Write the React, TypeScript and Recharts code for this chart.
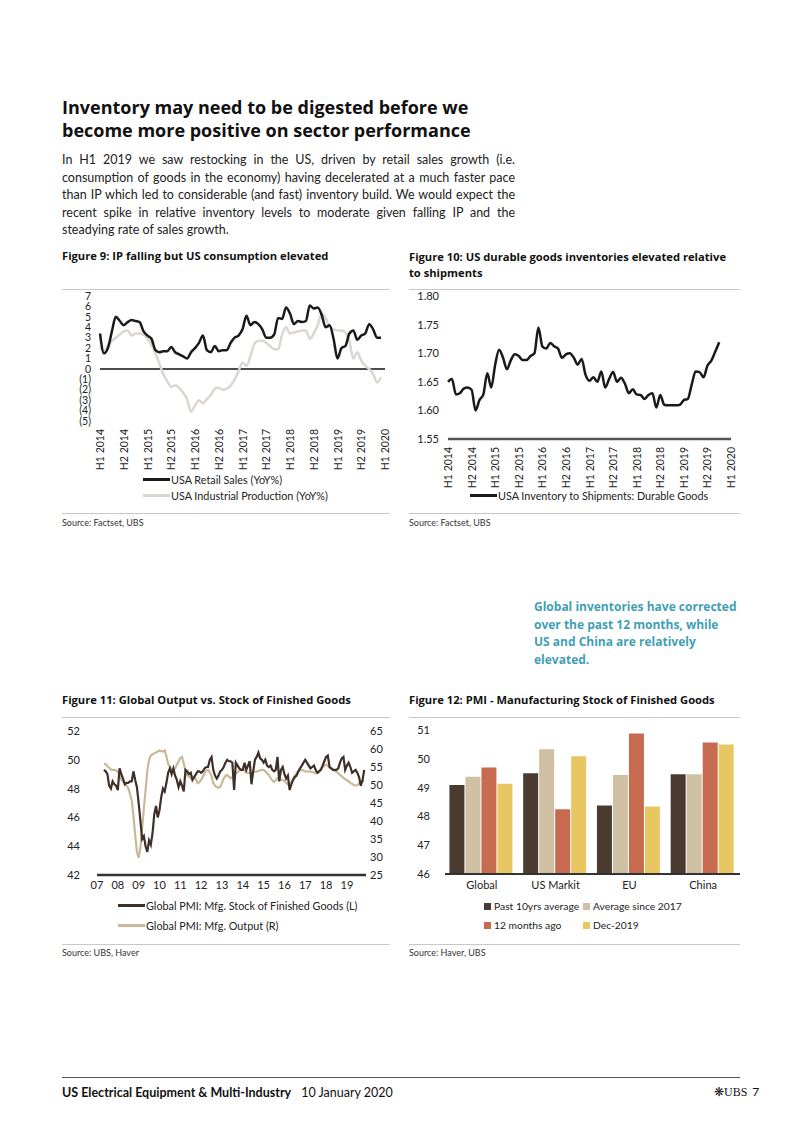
import React from "react";
import { LineChart, Line, XAxis, YAxis, ReferenceLine, BarChart, Bar } from "recharts";

const FONT = "Lato, 'Open Sans', sans-serif";
const HEAD_FONT = "'Open Sans', Lato, sans-serif";

// Figure 9 - monthly YoY %, Jan 2014 .. Dec 2019
const halfYearLabels = [
  "H1 2014", "H2 2014", "H1 2015", "H2 2015", "H1 2016", "H2 2016", "H1 2017",
  "H2 2017", "H1 2018", "H2 2018", "H1 2019", "H2 2019", "H1 2020",
];
const retailSales = [
  3.4, 1.5, 2.0, 3.6, 5.0, 4.6, 4.2, 4.5, 4.7, 4.6,
  4.5, 3.6, 3.2, 2.9, 1.8, 1.6, 1.7, 1.7, 2.1, 1.6,
  1.4, 1.2, 1.0, 1.6, 2.0, 2.5, 3.2, 1.8, 1.6, 2.2,
  1.7, 1.8, 1.8, 2.5, 3.0, 3.2, 3.8, 5.1, 4.2, 4.5,
  4.3, 3.8, 3.0, 3.0, 3.3, 4.9, 4.8, 5.9, 5.3, 4.3,
  4.6, 4.5, 4.6, 6.1, 5.8, 5.9, 5.2, 4.0, 4.2, 2.9,
  1.0, 2.0, 2.2, 3.4, 3.7, 2.8, 3.2, 3.4, 4.3, 3.8,
  3.0, 3.0,
];
const industrialProduction = [
  2.1, 1.7, 2.3, 2.7, 3.0, 3.3, 3.6, 3.7, 3.2, 3.4,
  3.4, 3.3, 2.9, 2.3, 1.5, 0.5, -0.5, -1.2, -1.7, -1.6,
  -1.8, -2.3, -2.9, -4.1, -3.5, -3.0, -3.3, -2.9, -2.5, -1.9,
  -1.8, -2.0, -1.9, -1.6, -1.0, -0.2, 0.6, 0.3, 1.2, 2.4,
  2.7, 2.7, 2.5, 2.2, 1.9, 1.9, 3.3, 4.0, 3.4, 3.5,
  3.6, 3.7, 3.7, 2.9, 3.4, 4.2, 5.3, 4.9, 4.0, 3.8,
  3.7, 3.7, 3.5, 2.7, 1.0, 1.6, 0.8, 0.3, 0.0, -0.5,
  -1.3, -0.8,
];

// Figure 10 - monthly ratio, Jan 2014 .. Oct 2019
const inventoryToShipments = [
  1.650, 1.655, 1.628, 1.630, 1.638, 1.640, 1.636, 1.600, 1.618, 1.628,
  1.665, 1.640, 1.680, 1.706, 1.692, 1.672, 1.688, 1.698, 1.695, 1.688,
  1.688, 1.695, 1.700, 1.745, 1.712, 1.708, 1.718, 1.712, 1.708, 1.692,
  1.698, 1.700, 1.692, 1.680, 1.690, 1.662, 1.652, 1.658, 1.650, 1.668,
  1.640, 1.655, 1.667, 1.650, 1.657, 1.647, 1.630, 1.637, 1.628, 1.627,
  1.620, 1.627, 1.630, 1.605, 1.627, 1.610, 1.609, 1.609, 1.609, 1.610,
  1.618, 1.620, 1.645, 1.668, 1.667, 1.658, 1.678, 1.687, 1.703, 1.719,
];

// Figure 11 - monthly from May 2007
const pmiYears = ["07", "08", "09", "10", "11", "12", "13", "14", "15", "16", "17", "18", "19"];
const pmiStartMonth = 4;
const pmiStock = [
  49.3, 49.2, 49.0, 48.2, 48.0, 48.5, 48.3, 48.2, 47.9, 49.4,
  49.0, 48.7, 48.3, 48.4, 48.4, 48.5, 48.5, 49.2, 48.6, 48.1,
  47.0, 45.8, 44.5, 44.7, 44.0, 43.6, 44.4, 44.1, 44.9, 46.2,
  46.8, 46.0, 46.5, 47.4, 48.0, 47.8, 48.4, 49.1, 49.4, 49.0,
  49.4, 48.9, 48.6, 48.1, 48.5, 48.2, 47.8, 49.3, 49.2, 49.0,
  49.1, 48.6, 48.8, 49.0, 49.2, 49.2, 49.1, 49.2, 49.4, 49.5,
  49.5, 50.0, 50.2, 49.3, 48.9, 48.7, 48.9, 49.2, 49.3, 49.5,
  49.8, 50.0, 49.9, 49.9, 49.8, 47.9, 49.8, 49.6, 49.4, 49.3,
  49.3, 49.8, 49.3, 49.6, 49.9, 48.3, 49.2, 50.0, 50.2, 50.5,
  50.1, 50.0, 49.8, 50.0, 49.6, 49.5, 49.6, 49.3, 49.2, 49.3,
  50.2, 48.5, 49.3, 49.5, 49.0, 48.7, 48.9, 47.9, 48.3, 48.6,
  48.8, 48.9, 49.2, 49.4, 49.6, 49.8, 50.0, 49.8, 49.6, 49.4,
  49.5, 49.6, 49.3, 49.1, 49.2, 49.3, 49.6, 49.9, 50.2, 50.3,
  49.5, 49.4, 49.3, 49.3, 49.3, 49.4, 49.8, 50.1, 50.2, 49.3,
  49.6, 49.8, 49.5, 49.1, 49.2, 49.3, 49.1, 48.8, 48.2, 48.6,
  49.3,
];
const pmiOutput = [
  56.0, 55.8, 55.2, 54.8, 54.3, 54.2, 54.2, 54.0, 53.7, 52.5,
  51.5, 51.0, 50.5, 49.8, 49.1, 47.5, 45.8, 41.5, 36.0, 31.5,
  29.8, 32.5, 38.0, 43.5, 48.5, 54.0, 57.0, 58.2, 58.5, 58.8,
  59.0, 59.3, 59.6, 59.4, 59.3, 59.6, 58.0, 55.8, 55.0, 54.4,
  54.3, 54.6, 55.6, 56.5, 57.5, 57.8, 56.0, 54.0, 52.8, 52.3,
  51.9, 52.1, 52.3, 51.5, 50.5, 50.8, 51.4, 52.3, 53.3, 54.0,
  54.2, 53.5, 52.5, 50.5, 49.8, 49.4, 49.3, 49.5, 50.6, 51.8,
  52.5, 52.8, 52.3, 51.9, 52.2, 52.8, 53.3, 53.5, 54.0, 54.2,
  54.2, 54.0, 53.6, 53.3, 53.4, 53.5, 53.6, 53.7, 53.7, 53.9,
  54.1, 54.2, 54.2, 53.8, 53.3, 52.8, 52.0, 51.3, 50.9, 51.3,
  51.9, 51.8, 51.5, 51.4, 51.2, 50.6, 50.1, 50.2, 50.9, 51.8,
  52.6, 53.3, 53.7, 54.1, 54.2, 54.0, 53.8, 53.7, 53.7, 53.7,
  53.6, 53.5, 53.3, 53.4, 53.9, 54.5, 55.0, 55.4, 55.6, 55.3,
  54.8, 54.5, 54.2, 53.9, 53.7, 53.3, 52.8, 52.4, 52.0, 51.6,
  51.4, 51.0, 50.6, 50.3, 50.0, 49.9, 50.0, 50.4, 50.8, 51.2,
  50.9,
];

// Figure 12 - PMI stock of finished goods
const pmiRegions = ["Global", "US Markit", "EU", "China"];
const past10yrAvg = [49.09, 49.5, 48.38, 49.46];
const avgSince2017 = [49.38, 50.33, 49.44, 49.46];
const monthsAgo12 = [49.7, 48.25, 50.88, 50.57];
const dec2019 = [49.13, 50.09, 48.34, 50.5];

const fig9Data = retailSales.map((v, i) => ({ m: i, retail: v, ip: industrialProduction[i] }));
const fig10Data = inventoryToShipments.map((v, i) => ({ m: i, ratio: v }));
const fig11Data = pmiStock.map((v, i) => ({ t: i + pmiStartMonth, stock: v, output: pmiOutput[i] }));
const fig12Data = pmiRegions.map((r, i) => ({
  region: r,
  past10: past10yrAvg[i],
  since2017: avgSince2017[i],
  ago12: monthsAgo12[i],
  dec19: dec2019[i],
}));

const halfYearTicks = halfYearLabels.map((_, i) => i * 6);
const yearTicks = pmiYears.map((_, i) => i * 12);

const axisText = { fontSize: 11, fill: "#222", fontFamily: FONT };

const RotatedTick = (props: any) => {
  const { x, y, payload } = props;
  return (
    <text
      x={x}
      y={y}
      transform={`rotate(-90, ${x}, ${y})`}
      textAnchor="end"
      dominantBaseline="central"
      fontSize={10.5}
      fill="#222"
      fontFamily={FONT}
    >
      {halfYearLabels[Math.round(payload.value / 6)]}
    </text>
  );
};

const Txt = ({ left, top, size = 12, bold = false, color = "#111", font = FONT, children, style = {} }: any) => (
  <div
    style={{
      position: "absolute",
      left,
      top,
      fontSize: size,
      fontWeight: bold ? 700 : 400,
      color,
      fontFamily: font,
      lineHeight: 1.2,
      whiteSpace: "nowrap",
      ...style,
    }}
  >
    {children}
  </div>
);

const HLine = ({ left, top, width, color = "#c8c8c8", h = 1 }: any) => (
  <div style={{ position: "absolute", left, top, width, height: h, background: color }} />
);

const LineKey = ({ left, top, color, label }: any) => (
  <div style={{ position: "absolute", left, top, display: "flex", alignItems: "center", fontFamily: FONT, fontSize: 10.8, color: "#222", whiteSpace: "nowrap" }}>
    <span style={{ display: "inline-block", width: 27, height: 3, background: color, marginRight: 1 }} />
    {label}
  </div>
);

const BoxKey = ({ left, top, color, label }: any) => (
  <div style={{ position: "absolute", left, top, display: "flex", alignItems: "center", fontFamily: FONT, fontSize: 10.3, color: "#222", whiteSpace: "nowrap" }}>
    <span style={{ display: "inline-block", width: 7, height: 7, background: color, marginRight: 3 }} />
    {label}
  </div>
);

const paragraph = [
  "In H1 2019 we saw restocking in the US, driven by retail sales growth (i.e.",
  "consumption of goods in the economy) having decelerated at a much faster pace",
  "than IP which led to considerable (and fast) inventory build. We would expect the",
  "recent spike in relative inventory levels to moderate given falling IP and the",
  "steadying rate of sales growth.",
];

const callout = [
  "Global inventories have corrected",
  "over the past 12 months, while",
  "US and China are relatively",
  "elevated.",
];

export default function App() {
  return (
    <div style={{ position: "absolute", left: 0, top: 0, width: 802, height: 1133, background: "#fff", overflow: "hidden" }}>
      {/* heading */}
      <Txt left={62} top={96} size={18} bold font={HEAD_FONT} style={{ lineHeight: "23px" }}>
        Inventory may need to be digested before we
        <br />
        become more positive on sector performance
      </Txt>
      <div style={{ position: "absolute", left: 62, top: 151, width: 453, fontFamily: FONT, fontSize: 12.5, lineHeight: "17.6px", color: "#222" }}>
        {paragraph.map((line, i) => (
          <div
            key={i}
            style={{
              textAlign: "justify",
              textAlignLast: i < paragraph.length - 1 ? "justify" : "left",
              whiteSpace: "nowrap",
            }}
          >
            {line}
          </div>
        ))}
      </div>

      {/* Figure 9 */}
      <Txt left={62} top={249} size={11.2} bold font={HEAD_FONT}>Figure 9: IP falling but US consumption elevated</Txt>
      <HLine left={62} top={289} width={328} />
      <div style={{ position: "absolute", left: 62, top: 290 }}>
        <LineChart width={330} height={186} data={fig9Data} margin={{ top: 6, right: 7, bottom: 0, left: 0 }}>
          <XAxis
            dataKey="m"
            type="number"
            domain={[0, 72]}
            ticks={halfYearTicks}
            axisLine={false}
            tickLine={false}
            tickSize={0}
            tickMargin={8}
            height={55}
            tick={<RotatedTick />}
            interval={0}
          />
          <YAxis
            domain={[-5, 7]}
            ticks={[-5, -4, -3, -2, -1, 0, 1, 2, 3, 4, 5, 6, 7]}
            tickFormatter={(v: number) => (v < 0 ? `(${-v})` : `${v}`)}
            axisLine={false}
            tickLine={false}
            tickSize={0}
            tickMargin={9}
            width={38}
            interval={0}
            tick={{ ...axisText, fontSize: 10.5, textAnchor: "end" }}
          />
          <ReferenceLine y={0} stroke="#111" strokeWidth={1.5} />
          <Line type="monotone" dataKey="ip" stroke="#dcd6d0" strokeWidth={2.5} dot={false} isAnimationActive={false} />
          <Line type="monotone" dataKey="retail" stroke="#1a1a1a" strokeWidth={2.5} dot={false} isAnimationActive={false} />
        </LineChart>
      </div>
      <LineKey left={143} top={473} color="#1a1a1a" label="USA Retail Sales (YoY%)" />
      <LineKey left={143} top={489} color="#dcd6d0" label="USA Industrial Production (YoY%)" />
      <HLine left={62} top={513} width={328} />
      <Txt left={62} top={518} size={9} color="#333">Source: Factset, UBS</Txt>

      {/* Figure 10 */}
      <Txt left={409} top={249} size={11.2} bold font={HEAD_FONT} style={{ lineHeight: "16px" }}>
        Figure 10: US durable goods inventories elevated relative
        <br />
        to shipments
      </Txt>
      <HLine left={409} top={289} width={331} />
      <div style={{ position: "absolute", left: 409, top: 290 }}>
        <LineChart width={331} height={204} data={fig10Data} margin={{ top: 6, right: 9, bottom: 0, left: 0 }}>
          <XAxis
            dataKey="m"
            type="number"
            domain={[0, 72]}
            ticks={halfYearTicks}
            axisLine={{ stroke: "#555", strokeWidth: 2.5 }}
            tickLine={false}
            tickSize={0}
            tickMargin={8}
            height={55}
            tick={<RotatedTick />}
            interval={0}
          />
          <YAxis
            domain={[1.55, 1.8]}
            ticks={[1.55, 1.6, 1.65, 1.7, 1.75, 1.8]}
            tickFormatter={(v: number) => v.toFixed(2)}
            axisLine={false}
            tickLine={false}
            tickSize={0}
            tickMargin={9}
            width={39}
            interval={0}
            tick={axisText}
          />
          <Line type="monotone" dataKey="ratio" stroke="#1a1a1a" strokeWidth={2.5} dot={false} isAnimationActive={false} />
        </LineChart>
      </div>
      <LineKey left={470} top={489} color="#1a1a1a" label="USA Inventory to Shipments: Durable Goods" />
      <HLine left={409} top={513} width={331} />
      <Txt left={409} top={518} size={9} color="#333">Source:  Factset, UBS</Txt>

      {/* callout */}
      <div style={{ position: "absolute", left: 534, top: 598, fontFamily: HEAD_FONT, fontSize: 12, fontWeight: 700, lineHeight: "17.6px", color: "#3f9fb5" }}>
        {callout.map((l, i) => (
          <div key={i}>{l}</div>
        ))}
      </div>

      {/* Figure 11 */}
      <Txt left={62} top={693} size={11.2} bold font={HEAD_FONT}>Figure 11: Global Output vs. Stock of Finished Goods</Txt>
      <HLine left={62} top={717} width={328} />
      <div style={{ position: "absolute", left: 62, top: 718 }}>
        <LineChart width={335} height={177} data={fig11Data} margin={{ top: 13, right: 0, bottom: 0, left: 0 }}>
          <XAxis
            dataKey="t"
            type="number"
            domain={[0, 155]}
            ticks={yearTicks}
            tickFormatter={(v: number) => pmiYears[Math.round(v / 12)]}
            axisLine={{ stroke: "#333", strokeWidth: 2.5 }}
            tickLine={false}
            tickSize={0}
            tickMargin={6}
            height={20}
            interval={0}
            tick={axisText}
          />
          <YAxis
            yAxisId="L"
            domain={[42, 52]}
            ticks={[42, 44, 46, 48, 50, 52]}
            axisLine={false}
            tickLine={false}
            tickSize={0}
            tickMargin={17}
            width={35}
            interval={0}
            tick={axisText}
          />
          <YAxis
            yAxisId="R"
            orientation="right"
            domain={[25, 65]}
            ticks={[25, 30, 35, 40, 45, 50, 55, 60, 65]}
            axisLine={false}
            tickLine={false}
            tickSize={0}
            tickMargin={4}
            width={31}
            interval={0}
            tick={axisText}
          />
          <Line yAxisId="R" type="linear" dataKey="output" stroke="#c9b998" strokeWidth={2.2} dot={false} isAnimationActive={false} />
          <Line yAxisId="L" type="linear" dataKey="stock" stroke="#3e3028" strokeWidth={2.2} dot={false} isAnimationActive={false} />
        </LineChart>
      </div>
      <LineKey left={118} top={899} color="#3e3028" label="Global PMI: Mfg. Stock of Finished Goods (L)" />
      <LineKey left={118} top={919} color="#c9b998" label="Global PMI: Mfg. Output (R)" />
      <HLine left={62} top={944} width={328} />
      <Txt left={62} top={948} size={9} color="#333">Source: UBS, Haver</Txt>

      {/* Figure 12 */}
      <Txt left={409} top={693} size={11.2} bold font={HEAD_FONT}>Figure 12: PMI - Manufacturing Stock of Finished Goods</Txt>
      <HLine left={409} top={717} width={331} />
      <div style={{ position: "absolute", left: 409, top: 718 }}>
        <BarChart width={331} height={178} data={fig12Data} margin={{ top: 12, right: 0, bottom: 0, left: 0 }} barCategoryGap="6%" barGap={1}>
          <XAxis
            dataKey="region"
            axisLine={{ stroke: "#333", strokeWidth: 2 }}
            tickLine={false}
            tickSize={0}
            tickMargin={7}
            height={22}
            interval={0}
            tick={axisText}
          />
          <YAxis
            domain={[46, 51]}
            ticks={[46, 47, 48, 49, 50, 51]}
            allowDataOverflow
            axisLine={false}
            tickLine={false}
            tickSize={0}
            tickMargin={15}
            width={36}
            interval={0}
            tick={axisText}
          />
          <Bar dataKey="past10" fill="#4a3a2f" isAnimationActive={false} />
          <Bar dataKey="since2017" fill="#cfc0a3" isAnimationActive={false} />
          <Bar dataKey="ago12" fill="#c66b4f" isAnimationActive={false} />
          <Bar dataKey="dec19" fill="#e8c662" isAnimationActive={false} />
        </BarChart>
      </div>
      <BoxKey left={484} top={900} color="#4a3a2f" label="Past 10yrs average" />
      <BoxKey left={583} top={900} color="#cfc0a3" label="Average since 2017" />
      <BoxKey left={484} top={919} color="#c66b4f" label="12 months ago" />
      <BoxKey left={583} top={919} color="#e8c662" label="Dec-2019" />
      <HLine left={409} top={944} width={331} />
      <Txt left={409} top={948} size={9} color="#333">Source: Haver, UBS</Txt>

      {/* footer */}
      <HLine left={62} top={1077} width={678} color="#555" />
      <Txt left={62} top={1085} size={12.5} color="#111">
        <b>US Electrical Equipment &amp; Multi-Industry</b>
        <span style={{ marginLeft: 10 }}>10 January 2020</span>
      </Txt>
      <Txt left={714} top={1085} size={12} color="#111" style={{ fontFamily: "'Liberation Serif', serif" }}>
        ❋UBS<span style={{ marginLeft: 5, fontFamily: FONT }}>7</span>
      </Txt>
    </div>
  );
}
